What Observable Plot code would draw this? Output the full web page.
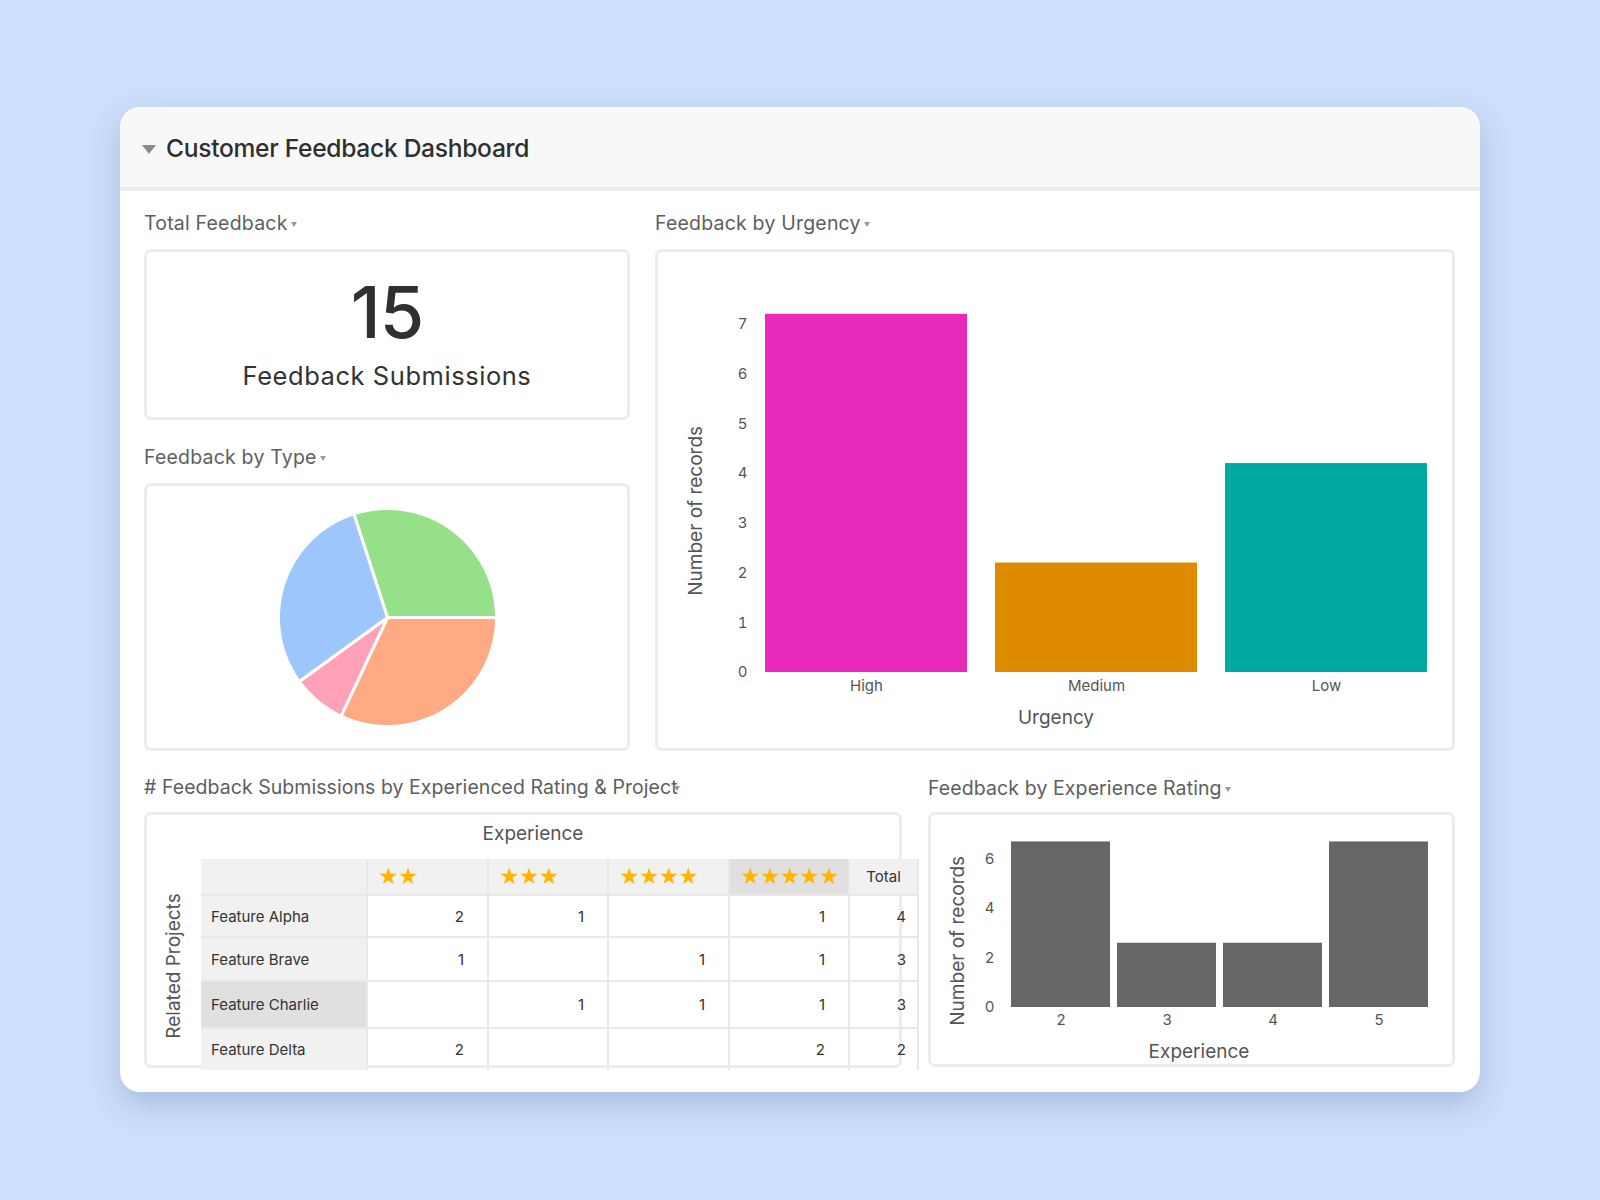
<!DOCTYPE html>
<html>
<head>
<meta charset="utf-8">
<script src="https://cdn.jsdelivr.net/npm/d3@7"></script>
<script src="https://cdn.jsdelivr.net/npm/@observablehq/plot@0.6"></script>
<style>
  html, body { margin: 0; padding: 0; }
  body { width: 1600px; height: 1200px; background: #cddffa; position: relative; overflow: hidden;
         font-family: Inter, "Noto Sans", sans-serif; color: #333; }
  .abs { position: absolute; }
  .card { left: 120px; top: 107px; width: 1360px; height: 985px; background: #fff; border-radius: 20px;
          box-shadow: 0 12px 30px rgba(70, 100, 160, 0.28); overflow: hidden; }
  .head { left: 0; top: 0; width: 1360px; height: 80px; background: #f8f8f8; border-bottom: 4px solid #ececec; }
  .title { left: 46px; top: 26px; font-size: 24.6px; font-weight: 500; color: #2e2e2e; letter-spacing: -0.3px; }
  .tri { left: 22px; top: 38px; width: 0; height: 0; border-left: 7px solid transparent; border-right: 7px solid transparent; border-top: 9px solid #8a8a8a; }
  .lbl { font-size: 19.5px; color: #5e5e5e; white-space: nowrap; letter-spacing: 0.2px; }
  .caret { display: inline-block; width: 0; height: 0; border-left: 3.5px solid transparent; border-right: 3.5px solid transparent;
           border-top: 5px solid #999; vertical-align: middle; margin-left: 3px; }
  .box { border: 3px solid #ececec; border-radius: 7px; box-sizing: border-box; background: #fff; }
  .big { font-size: 72px; font-weight: 500; color: #303030; text-align: center; width: 100%; letter-spacing: -1px; }
  .sub { font-size: 25.5px; color: #333; text-align: center; width: 100%; letter-spacing: 0.55px; }
  table.pivot { border-collapse: collapse; table-layout: fixed; font-size: 15px; color: #333; }
  table.pivot td { border: 2px solid #e8e8e8; padding: 0; box-sizing: border-box; }
  table.pivot tr:first-child td { border-top: none; }
  table.pivot td:first-child { border-left: none; }
  table.pivot tr:last-child td { border-bottom: none; }
  table.pivot td.hd { background: #f1f1f1; }
  table.pivot td.hd.sel { background: #e0e0e0; }
  table.pivot td.star { color: #ffb400; font-size: 20px; padding-left: 10px; letter-spacing: -1.2px; }
  table.pivot td.tot { text-align: center; background: #f1f1f1; }
  table.pivot td.row { padding-left: 10px; background: #f1f1f1; }
  table.pivot td.row.sel { background: #e0e0e0; }
  table.pivot td.num { text-align: right; padding-right: 23px; }
  table.pivot td.num.last { padding-right: 11px; }
</style>
</head>
<body>
<div class="abs card">
  <div class="abs head">
    <div class="abs tri"></div>
    <div class="abs title">Customer Feedback Dashboard</div>
  </div>
</div>

<div class="abs lbl" style="left:144px; top:211px;">Total Feedback<span class="caret"></span></div>
<div class="abs box" style="left:144px; top:249px; width:486px; height:171px;">
  <div class="abs big" id="kpi" style="top:16px;"></div>
  <div class="abs sub" style="top:108px;">Feedback Submissions</div>
</div>

<div class="abs lbl" style="left:144px; top:445px;">Feedback by Type<span class="caret"></span></div>
<div class="abs box" style="left:144px; top:483px; width:486px; height:268px;"></div>
<div class="abs" id="pie" style="left:144px; top:483px;"></div>

<div class="abs lbl" style="left:655px; top:211px;">Feedback by Urgency<span class="caret"></span></div>
<div class="abs box" style="left:655px; top:249px; width:800px; height:502px;"></div>
<div class="abs" id="urgency" style="left:655px; top:249px;"></div>

<div class="abs lbl" style="left:144px; top:775px; letter-spacing:0.05px;"># Feedback Submissions by Experienced Rating &amp; Project<span class="caret" style="margin-left:-4px;"></span></div>
<div class="abs box" style="left:144px; top:812px; width:758px; height:256px;"></div>
<div class="abs" style="left:445px; top:822px; width:176px; text-align:center; font-size:19px; color:#555;">Experience</div>
<div class="abs" style="left:173px; top:966px; font-size:19px; color:#555; transform: translate(-50%, -50%) rotate(-90deg); white-space:nowrap;">Related Projects</div>
<div class="abs" id="pivot" style="left:201px; top:859px;"></div>

<div class="abs lbl" style="left:928px; top:776px; letter-spacing:0.1px;">Feedback by Experience Rating<span class="caret"></span></div>
<div class="abs box" style="left:928px; top:812px; width:527px; height:255px;"></div>
<div class="abs" id="rating" style="left:928px; top:812px;"></div>

<script>
// ---- data ----
const totalFeedback = 15;

const feedbackTypes = ["Praise", "Complaint", "Question", "Suggestion"];
const typeShares = [30, 32, 8, 30];
const typeColors = ["#96e08a", "#ffaa82", "#ffa1b8", "#9dc6fd"];

const urgencyLevels = ["High", "Medium", "Low"];
const urgencyCounts = [7.2, 2.2, 4.2];
const urgencyColors = ["#e829b9", "#df8b00", "#00aaa3"];

const ratingLevels = ["2", "3", "4", "5"];
const ratingCounts = [6.7, 2.6, 2.6, 6.7];

const projects = ["Feature Alpha", "Feature Brave", "Feature Charlie", "Feature Delta"];
const starHeaders = ["★★", "★★★", "★★★★", "★★★★★"];
const pivotCounts = [
  [2, 1, null, 1],
  [1, null, 1, 1],
  [null, 1, 1, 1],
  [2, null, null, 2]
];
const rowTotals = [4, 3, 3, 2];

const font = "Inter, 'Noto Sans', sans-serif";

// ---- KPI ----
document.getElementById("kpi").textContent = totalFeedback;

// ---- pie: each slice is a closed outline filled by type ----
const arcs = d3.pie().sort(null).value(d => d).startAngle(-18 * Math.PI / 180)(typeShares);
const pieOutline = [];
arcs.forEach((a, i) => {
  const type = feedbackTypes[i];
  pieOutline.push({type, x: 0, y: 0});
  const n = Math.max(2, Math.ceil((a.endAngle - a.startAngle) / 0.01));
  for (let k = 0; k <= n; k++) {
    const t = a.startAngle + (a.endAngle - a.startAngle) * k / n;
    pieOutline.push({type, x: Math.sin(t), y: Math.cos(t)});
  }
  pieOutline.push({type, x: 0, y: 0});
});

document.getElementById("pie").append(Plot.plot({
  width: 486, height: 268,
  marginLeft: 134, marginRight: 134, marginTop: 25, marginBottom: 25,
  x: {domain: [-1, 1], axis: null},
  y: {domain: [-1, 1], axis: null},
  color: {domain: feedbackTypes, range: typeColors},
  style: {background: "transparent"},
  marks: [
    Plot.line(pieOutline, {x: "x", y: "y", z: "type", fill: "type", stroke: "white", strokeWidth: 3, strokeLinejoin: "round"})
  ]
}));

// ---- urgency bars ----
const urgency = urgencyLevels.map((level, i) => ({level, count: urgencyCounts[i]}));
document.getElementById("urgency").append(Plot.plot({
  width: 800, height: 502,
  marginLeft: 110, marginRight: 27, marginTop: 25, marginBottom: 79,
  style: {background: "transparent", fontFamily: font, fontSize: "15px", color: "#555", overflow: "visible"},
  x: {domain: urgencyLevels, paddingInner: 0.12, paddingOuter: 0, label: null},
  y: {domain: [0, 8], label: null},
  color: {domain: urgencyLevels, range: urgencyColors},
  marks: [
    Plot.barY(urgency, {x: "level", y: "count", fill: "level", inset: 0}),
    Plot.axisY({ticks: d3.range(0, 8), tickFormat: "d", tickSize: 0, tickPadding: 18, label: null, fill: "#555"}),
    Plot.axisX({tickSize: 0, tickPadding: 8, label: null, fill: "#555"}),
    Plot.text(["Urgency"], {frameAnchor: "bottom", dx: -41, dy: 45, lineAnchor: "middle", textAnchor: "middle", fontSize: 19, fill: "#555"}),
    Plot.text(["Number of records"], {frameAnchor: "left", y: [3.25], dx: -70, rotate: -90, lineAnchor: "middle", textAnchor: "middle", fontSize: 19, fill: "#555"})
  ]
}));

// ---- experience rating bars ----
const ratings = ratingLevels.map((level, i) => ({level, count: ratingCounts[i]}));
document.getElementById("rating").append(Plot.plot({
  width: 527, height: 255,
  marginLeft: 83, marginRight: 27, marginTop: 22, marginBottom: 60,
  style: {background: "transparent", fontFamily: font, fontSize: "15px", color: "#555", overflow: "visible"},
  x: {domain: ratingLevels, paddingInner: 0.07, paddingOuter: 0, label: null},
  y: {domain: [0, 7], label: null},
  marks: [
    Plot.barY(ratings, {x: "level", y: "count", fill: "#666666", inset: 0}),
    Plot.axisY({ticks: [0, 2, 4, 6], tickFormat: "d", tickSize: 0, tickPadding: 17, label: null, fill: "#555"}),
    Plot.axisX({tickSize: 0, tickPadding: 7, label: null, fill: "#555"}),
    Plot.text(["Experience"], {frameAnchor: "bottom", dx: -21, dy: 44, lineAnchor: "middle", textAnchor: "middle", fontSize: 19, fill: "#555"}),
    Plot.text(["Number of records"], {frameAnchor: "left", y: [2.7], dx: -54, rotate: -90, lineAnchor: "middle", textAnchor: "middle", fontSize: 19, fill: "#555"})
  ]
}));

// ---- pivot table ----
const colWidths = [166, 121, 120, 121, 120, 69];
const rowHeights = [36, 42, 44, 47, 42];
const table = document.createElement("table");
table.className = "pivot";
table.style.width = d3.sum(colWidths) + "px";
const cg = document.createElement("colgroup");
colWidths.forEach(w => { const c = document.createElement("col"); c.style.width = w + "px"; cg.append(c); });
table.append(cg);
const hr = table.insertRow();
hr.style.height = rowHeights[0] + "px";
hr.insertCell().className = "hd";
starHeaders.forEach((s, j) => {
  const c = hr.insertCell();
  c.className = "hd star" + (j === 3 ? " sel" : "");
  c.textContent = s;
});
const th = hr.insertCell(); th.className = "tot"; th.textContent = "Total";
projects.forEach((p, i) => {
  const r = table.insertRow();
  r.style.height = rowHeights[i + 1] + "px";
  const rc = r.insertCell();
  rc.className = "row" + (i === 2 ? " sel" : "");
  rc.textContent = p;
  pivotCounts[i].forEach(v => {
    const c = r.insertCell(); c.className = "num"; c.textContent = v == null ? "" : v;
  });
  const t = r.insertCell(); t.className = "num last"; t.textContent = rowTotals[i];
});
document.getElementById("pivot").append(table);
</script>
</body>
</html>
